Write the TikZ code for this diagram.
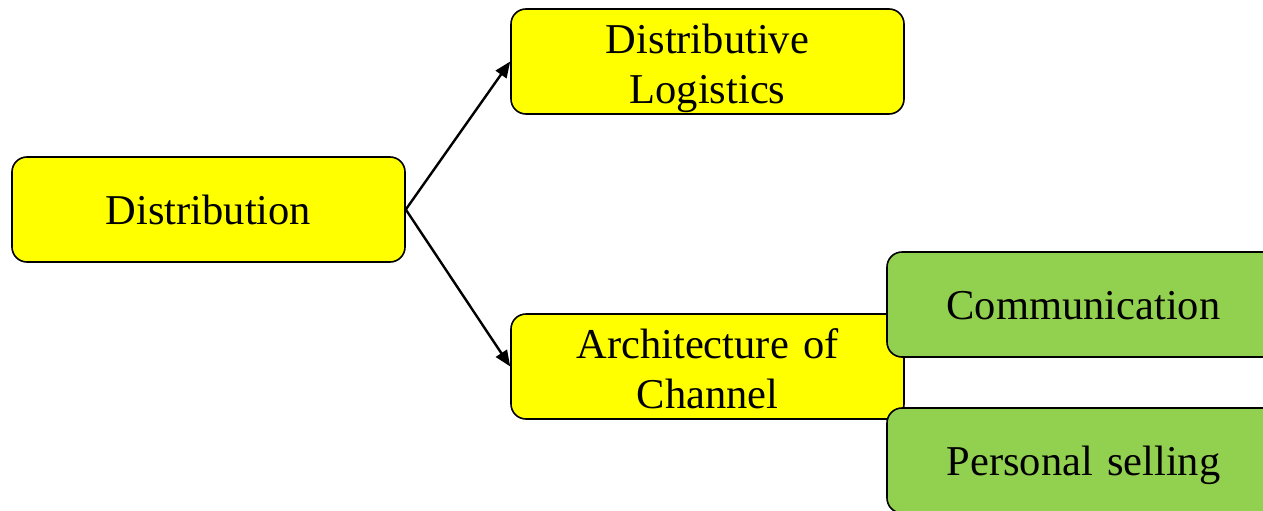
\documentclass[tikz,border=0pt]{standalone}
\usepackage{fontspec}
\setmainfont{Liberation Serif}
\usetikzlibrary{arrows.meta}
\definecolor{boxyellow}{HTML}{FFFF00}
\definecolor{boxgreen}{HTML}{92D050}
\tikzset{
  box/.style={draw=black, line width=1.6pt, rounded corners=15pt, minimum width=393pt, minimum height=105pt, inner sep=0pt, align=center, font=\fontsize{42.5}{50}\selectfont, text width=380pt},
  oneline/.style={text height=33pt, text depth=4pt},
  twoline/.style={text height=33pt, text depth=49pt},
  ybox/.style={box, fill=boxyellow},
  gbox/.style={box, fill=boxgreen},
  conn/.style={draw=black, line width=2.4pt, -{Triangle[length=16pt,width=13pt]}, shorten >=0pt}
}
\begin{document}
\begin{tikzpicture}[x=1pt,y=-1pt]
\useasboundingbox (0,0) rectangle (1263,511);
\clip (0,0) rectangle (1263,511);
\node[ybox, oneline] (dist) at (208.5,209.5) {Distribution};
\node[ybox, twoline] (log) at (707.5,61.5) {Distributive\\Logistics};
\node[ybox, twoline] (arch) at (707.5,366.5) {Architecture of\\Channel};
\node[gbox, oneline] (comm) at (1083.5,304.5) {Communication};
\node[gbox, oneline] (pers) at (1083.5,460.5) {Personal selling};
\draw[conn] (dist.east) -- (log.west);
\draw[conn] (dist.east) -- (arch.west);
\end{tikzpicture}
\end{document}
